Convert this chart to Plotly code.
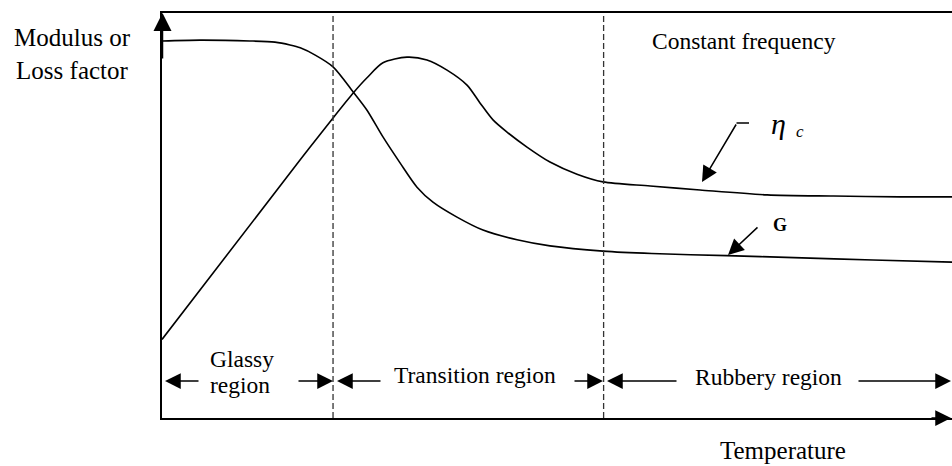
import plotly.graph_objects as go

# ---- data ----
temperature_G = [0, 4.8, 11.1, 14.3, 16.2, 17.5, 19.4, 21.65, 24.2, 25.95, 27.97, 30.13,
                 32.28, 34.3, 37.34, 40.63, 44.94, 49.11, 55.82, 62, 71.5, 80, 90, 100]
modulus_G = [93.1, 93.3, 93.1, 92.8, 92.1, 91.4, 89.6, 86.7, 80.5, 76.0, 69.4, 63.0,
             57.0, 53.3, 49.6, 46.4, 44.0, 42.5, 41.2, 40.6, 40.1, 39.6, 39.0, 38.5]

temperature_eta = [0, 17.47, 21.65, 24.18, 25.95, 27.97, 31.01, 33.54, 36.08, 38.61, 40.25,
                   41.9, 43.67, 46.2, 49.11, 52.53, 55.82, 61.8, 68.1, 76.6, 85, 93.4, 100]
loss_eta = [19.4, 63.7, 74.1, 80.2, 84.0, 87.7, 89.1, 88.4, 85.9, 82.2, 77.8,
            73.6, 70.6, 66.9, 63.2, 60.2, 58.3, 57.3, 56.3, 55.1, 54.8, 54.6, 54.6]

region_bounds = [21.65, 55.9]
region_names = ["Glassy", "region", "Transition region", "Rubbery region"]
axis_labels = ["Modulus or<br>Loss factor", "Temperature"]
note_text = "Constant frequency"

FONT = "Liberation Serif"
# plot area in page pixels
L, T, W, H = 162, 13, 790, 405
FIG_W, FIG_H = 952, 466


def dx(px):
    return (px - L) / W * 100


def dy(py):
    return (T + H - py) / H * 100


def px_paper(px):
    return (px - L) / W


def py_paper(py):
    return (T + H - py) / H


fig = go.Figure()
fig.add_trace(go.Scatter(x=temperature_G, y=modulus_G, mode="lines",
                         line=dict(color="black", width=1.6, shape="spline", smoothing=0.8),
                         showlegend=False, hoverinfo="skip", cliponaxis=False))
fig.add_trace(go.Scatter(x=temperature_eta, y=loss_eta, mode="lines",
                         line=dict(color="black", width=1.6, shape="spline", smoothing=0.8),
                         showlegend=False, hoverinfo="skip", cliponaxis=False))

shapes = []
for b in region_bounds:
    shapes.append(dict(type="line", xref="x", yref="paper", x0=b, x1=b, y0=0, y1=1,
                       line=dict(color="#333333", width=1.3, dash="6px,3px")))
# leader for eta label
shapes.append(dict(type="line", xref="x", yref="y", x0=dx(736.5), x1=dx(749), y0=dy(123), y1=dy(123),
                   line=dict(color="black", width=1.5)))

ann = []


def arrow(tip, tail, size=2.1, width=1.5):
    ann.append(dict(x=dx(tip[0]), y=dy(tip[1]), ax=dx(tail[0]), ay=dy(tail[1]),
                    xref="x", yref="y", axref="x", ayref="y", text="", showarrow=True,
                    arrowhead=2, arrowsize=size, arrowwidth=width, arrowcolor="black"))


def edge_arrow(tip_px, py, tail_px, size=2.1, width=1.5):
    ann.append(dict(x=px_paper(tip_px), y=py_paper(py), xref="paper", yref="paper",
                    ax=tail_px - tip_px, ay=0, axref="pixel", ayref="pixel", text="",
                    showarrow=True, arrowhead=2, arrowsize=size, arrowwidth=width,
                    arrowcolor="black"))


def label(text, px, py, size=23.5, xanchor="left", bold=False, italic=False):
    t = text
    if bold:
        t = "<b>" + t + "</b>"
    if italic:
        t = "<i>" + t + "</i>"
    ann.append(dict(x=px_paper(px), y=py_paper(py), xref="paper", yref="paper", text=t,
                    showarrow=False, xanchor=xanchor, yanchor="middle",
                    font=dict(family=FONT, size=size, color="black")))


# region arrows
arrow((165, 381), (200, 381))
arrow((333, 381), (297, 381))
arrow((337, 381), (382, 381))
arrow((603, 381), (573, 381))
arrow((607, 381), (678, 381))
edge_arrow(959, 381, 857)
# axes arrows
edge_arrow(959, 418, 930)
arrow((162.5, 13), (162.5, 60), size=2.4)
# curve pointers
arrow((702, 182), (737, 123))
arrow((728, 255), (759, 226))

# texts
label(axis_labels[0], 12, 54, size=25)
label(axis_labels[1], 718, 450, size=25)
label(note_text, 650, 41)
label(region_names[0], 208, 359)
label(region_names[1], 208, 385)
label(region_names[2], 392, 375)
label(region_names[3], 693, 377)
label("G", 771, 225, size=18, bold=True)
label("η", 769, 123, size=30, italic=True)
label("c", 794, 131, size=17, italic=True)

fig.update_layout(
    width=FIG_W, height=FIG_H,
    margin=dict(l=L, r=FIG_W - L - W, t=T, b=FIG_H - T - H, pad=0),
    paper_bgcolor="white", plot_bgcolor="white",
    xaxis=dict(range=[0, 100], showline=True, mirror=True, linecolor="black", linewidth=1.5,
               showgrid=False, zeroline=False, showticklabels=False, ticks=""),
    yaxis=dict(range=[0, 100], showline=True, mirror=False, linecolor="black", linewidth=1.5,
               showgrid=False, zeroline=False, showticklabels=False, ticks=""),
    shapes=shapes, annotations=ann,
)

fig.write_html("out.html",
               config={"displayModeBar": False},
               post_script="document.body.style.margin='0';document.body.style.overflow='hidden';")
